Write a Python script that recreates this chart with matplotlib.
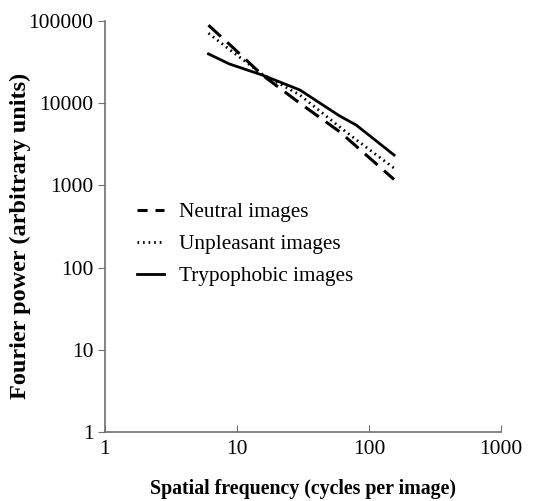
import matplotlib
matplotlib.use("Agg")
import matplotlib.pyplot as plt
from matplotlib.lines import Line2D

plt.rcParams['font.family'] = ['Liberation Serif', 'DejaVu Serif']

# spatial frequency (cycles per image)
freq = [6.1, 8.8, 15.6, 30, 60, 80, 155]
# Fourier power (arbitrary units)
neutral = [89000, 52000, 22000, 10000, 4500, 3000, 1180]
unpleasant = [71000, 45000, 22500, 12600, 5150, 3600, 1620]
trypophobic = [39800, 30000, 22000, 14500, 7000, 5430, 2340]

labels = ['Neutral images', 'Unpleasant images', 'Trypophobic images']

fig = plt.figure(figsize=(5.37, 5.01), dpi=100)
ax = fig.add_axes([0.195, 0.138, 0.738, 0.820])

ax.plot(freq, neutral, color='black', lw=2.2, linestyle=(0, (5.5, 2.8)))
ax.plot(freq, unpleasant, color='black', lw=2.0, linestyle=(0, (0.6, 1.4)))
ax.plot(freq, trypophobic, color='black', lw=2.0, linestyle='-')

ax.set_xscale('log')
ax.set_yscale('log')
ax.set_xlim(1, 1000)
ax.set_ylim(1, 100000)
ax.set_xticks([1, 10, 100, 1000])
ax.set_xticklabels(['1', '10', '100', '1000'])
ax.set_yticks([1, 10, 100, 1000, 10000, 100000])
ax.set_yticklabels(['1', '10', '100', '1000', '10000', '100000'])
ax.minorticks_off()

for s in ['top', 'right']:
    ax.spines[s].set_visible(False)
for s in ['left', 'bottom']:
    ax.spines[s].set_color('#707070')
    ax.spines[s].set_linewidth(1.2)

ax.tick_params(axis='y', direction='out', length=5, color='#707070', labelsize=15.5, pad=3)
ax.tick_params(axis='x', direction='in', length=5, color='#707070', labelsize=15.5, pad=6)

ax.set_xlabel('Spatial frequency (cycles per image)', fontsize=14.3, fontweight='bold', labelpad=14)
ax.set_ylabel('Fourier power (arbitrary units)', fontsize=17.5, fontweight='bold')
ax.yaxis.set_label_coords(-0.185, 0.476)

# legend handles: the dashed one shows two short dashes as in the original
handles = [Line2D([], [], color='black', lw=2.2, linestyle=(0, (3.3, 2.6))),
           Line2D([], [], color='black', lw=2.0, linestyle=(0, (0.6, 1.4))),
           Line2D([], [], color='black', lw=2.0, linestyle='-')]
ax.legend(handles, labels, loc='upper left', bbox_to_anchor=(118 / 537, 1 - 183 / 501),
          bbox_transform=fig.transFigure, frameon=False, fontsize=15.3,
          handlelength=1.25, handletextpad=0.7, labelspacing=0.58)

fig.savefig('out.png', dpi=100)
